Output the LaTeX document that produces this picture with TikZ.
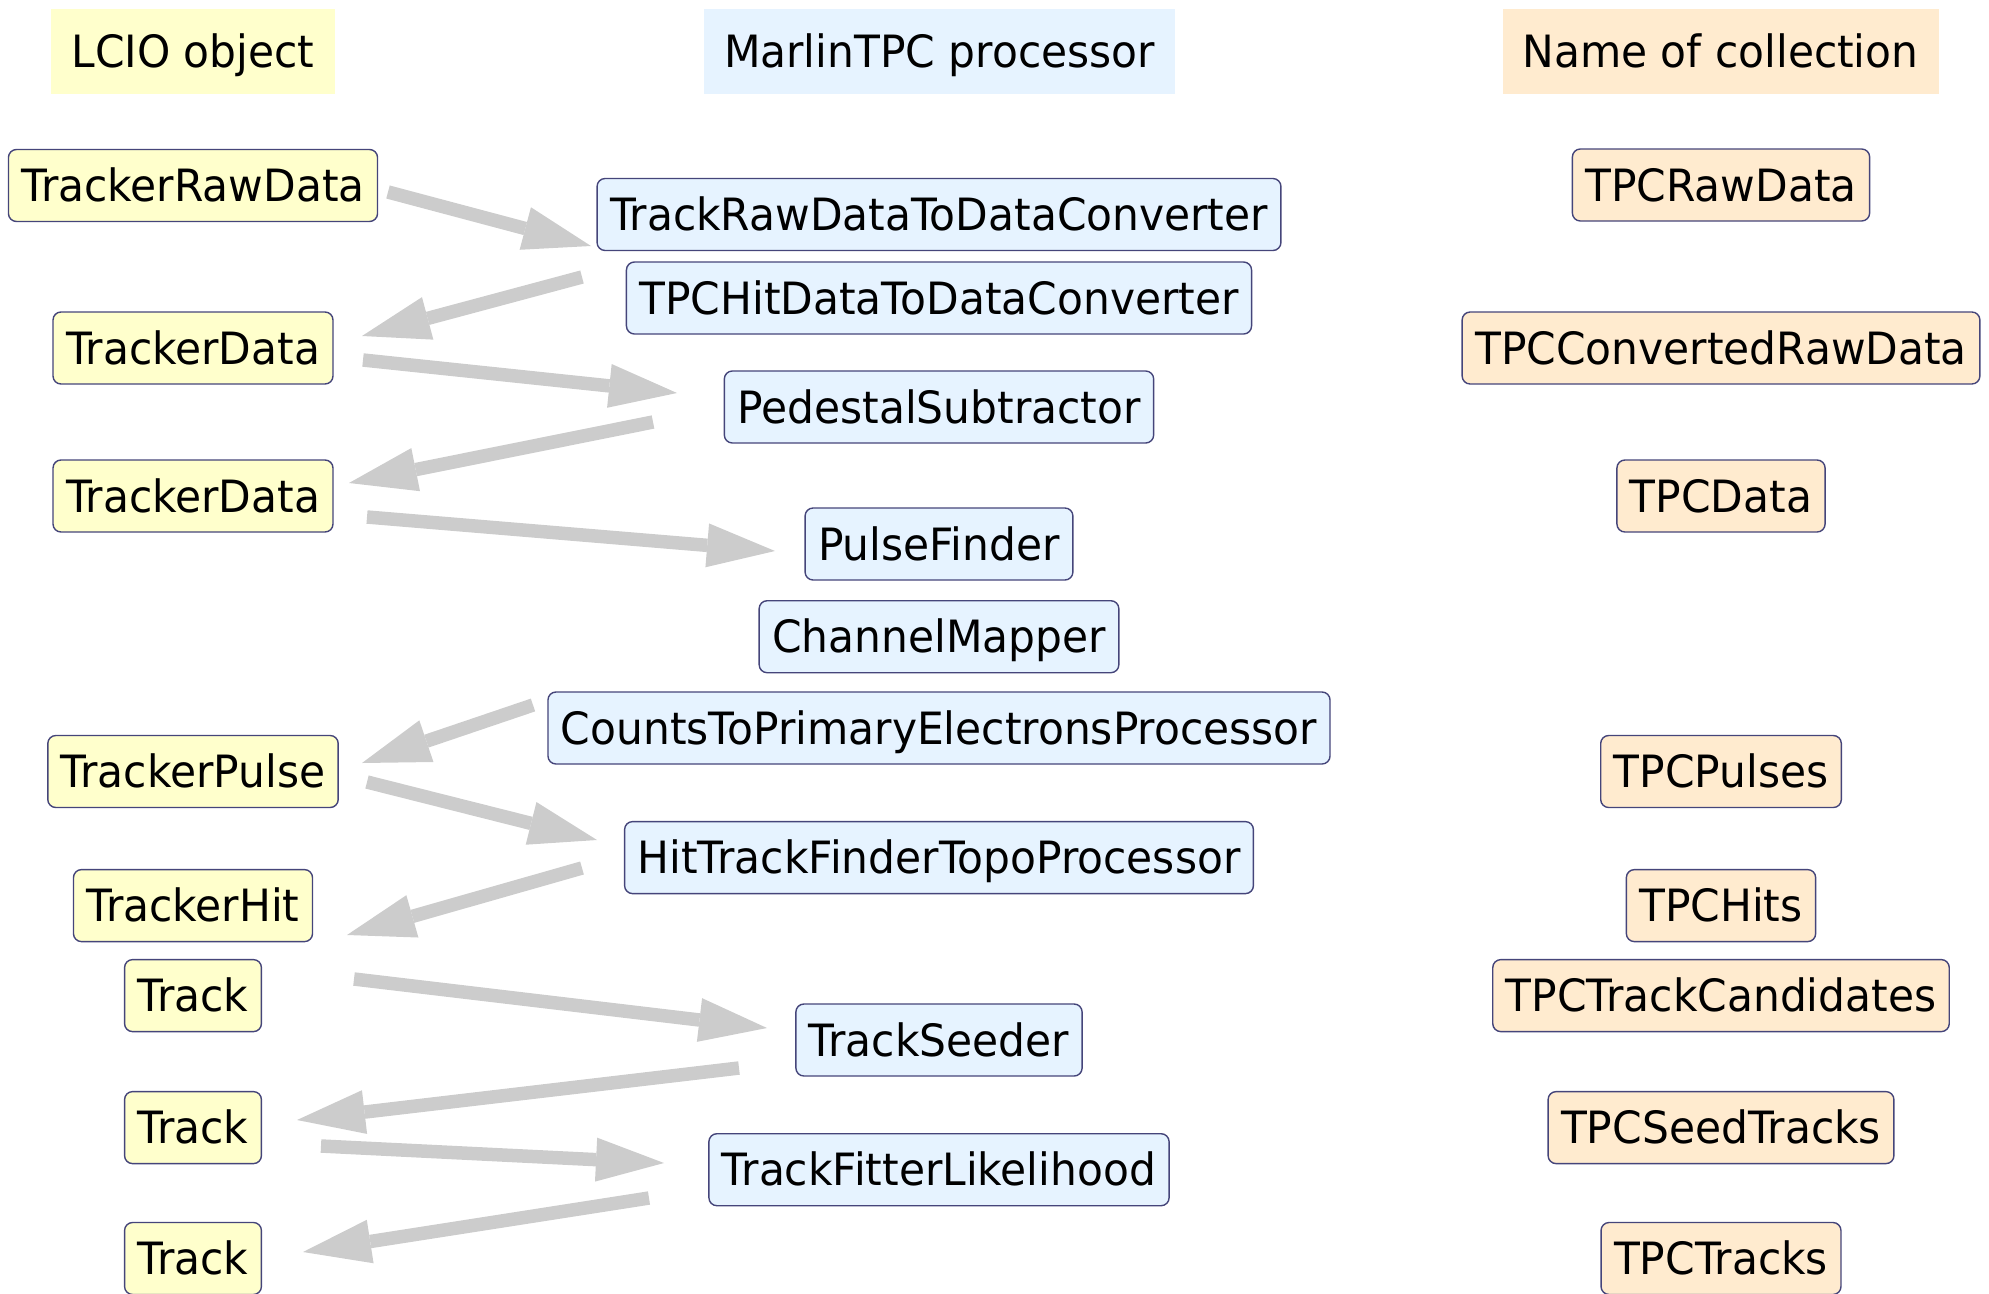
\documentclass[tikz,border=0pt]{standalone}
\usepackage{fontspec}
\setmainfont[FakeStretch=0.952]{DejaVu Sans}
\usetikzlibrary{arrows.meta}
\definecolor{lcioY}{HTML}{FFFFCC}
\definecolor{marlinB}{HTML}{E6F3FF}
\definecolor{collO}{HTML}{FFEBCF}
\definecolor{edgeC}{HTML}{45457A}
\definecolor{arrowG}{HTML}{CCCCCC}
\begin{document}
\begin{tikzpicture}[x=1pt,y=-1pt,
  font=\fontsize{44.5}{50}\selectfont,
  box/.style={draw=edgeC, line width=1.4pt, rounded corners=8pt,
    minimum height=72pt, inner xsep=13pt, inner ysep=0pt,
    text height=32.5pt, text depth=0pt},
  lcio/.style={box, fill=lcioY},
  proc/.style={box, fill=marlinB},
  coll/.style={box, fill=collO},
  hdr/.style={minimum height=85pt, inner xsep=20pt, inner ysep=0pt,
    text height=32.5pt, text depth=0pt},
  flow/.style={draw=arrowG, line width=13.5pt,
    -{Triangle[length=68pt,width=44pt,line width=0pt]}}]
\useasboundingbox (0,0) rectangle (1989,1293);

% headers
\node[hdr, fill=lcioY]   (h1) at (193,51.5)   {LCIO object};
\node[hdr, fill=marlinB] (h2) at (939.5,51.5) {MarlinTPC processor};
\node[hdr, fill=collO]   (h3) at (1720.5,51.5) {Name of collection};

% LCIO objects
\node[lcio] (lA) at (193,185.5)  {TrackerRawData};
\node[lcio] (lB) at (193,348)    {TrackerData};
\node[lcio] (lC) at (193,496)    {TrackerData};
\node[lcio] (lD) at (193,771.5)  {TrackerPulse};
\node[lcio] (lE) at (193,905.6)  {TrackerHit};
\node[lcio] (lF) at (193,995.6)  {Track};
\node[lcio] (lG) at (193,1127.6) {Track};
\node[lcio] (lH) at (193,1258.5) {Track};

% processors
\node[proc] (mA) at (939,214.5)  {TrackRawDataToDataConverter};
\node[proc] (mB) at (939,298)    {TPCHitDataToDataConverter};
\node[proc] (mC) at (939,407)    {PedestalSubtractor};
\node[proc] (mD) at (939,544)    {PulseFinder};
\node[proc] (mE) at (939,636.7)  {ChannelMapper};
\node[proc] (mF) at (939,728)    {CountsToPrimaryElectronsProcessor};
\node[proc] (mG) at (939,857.6)  {HitTrackFinderTopoProcessor};
\node[proc] (mH) at (939,1040)   {TrackSeeder};
\node[proc] (mI) at (939,1169.7) {TrackFitterLikelihood};

% collections
\node[coll] (rA) at (1721,185)    {TPCRawData};
\node[coll] (rB) at (1721,348)    {TPCConvertedRawData};
\node[coll] (rC) at (1721,496)    {TPCData};
\node[coll] (rD) at (1721,771.5)  {TPCPulses};
\node[coll] (rE) at (1721,905.6)  {TPCHits};
\node[coll] (rF) at (1721,995.6)  {TPCTrackCandidates};
\node[coll] (rG) at (1721,1127.6) {TPCSeedTracks};
\node[coll] (rH) at (1721,1258.5) {TPCTracks};

% arrow end points
\coordinate (a1s) at (388,192);   \coordinate (a1e) at (591,246);
\coordinate (a2s) at (582,277);   \coordinate (a2e) at (362,336);
\coordinate (a3s) at (363,360);   \coordinate (a3e) at (677,393);
\coordinate (a4s) at (653,422);   \coordinate (a4e) at (349,483);
\coordinate (a5s) at (367,517);   \coordinate (a5e) at (775,551);
\coordinate (a6s) at (533,705);   \coordinate (a6e) at (362,763);
\coordinate (a7s) at (367,782);   \coordinate (a7e) at (597,840);
\coordinate (a8s) at (582,868);   \coordinate (a8e) at (347,935);
\coordinate (a9s) at (354,979);   \coordinate (a9e) at (767,1028);
\coordinate (a10s) at (739,1068); \coordinate (a10e) at (297,1120);
\coordinate (a11s) at (321,1146); \coordinate (a11e) at (664,1163);
\coordinate (a12s) at (649,1198); \coordinate (a12e) at (303,1252);

\draw[flow] (a1s) -- (a1e);
\draw[flow] (a2s) -- (a2e);
\draw[flow] (a3s) -- (a3e);
\draw[flow] (a4s) -- (a4e);
\draw[flow] (a5s) -- (a5e);
\draw[flow] (a6s) -- (a6e);
\draw[flow] (a7s) -- (a7e);
\draw[flow] (a8s) -- (a8e);
\draw[flow] (a9s) -- (a9e);
\draw[flow] (a10s) -- (a10e);
\draw[flow] (a11s) -- (a11e);
\draw[flow] (a12s) -- (a12e);
\end{tikzpicture}
\end{document}
